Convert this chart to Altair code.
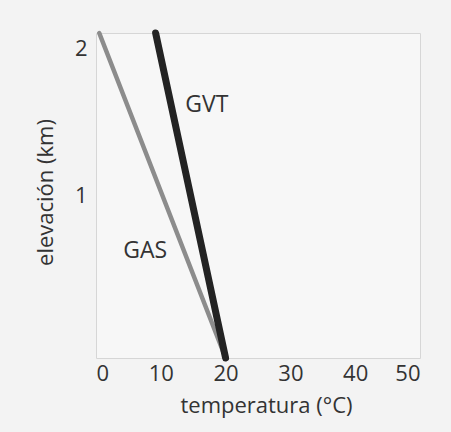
import altair as alt
import pandas as pd

series = ["GAS", "GAS", "GVT", "GVT"]
temps = [0.5, 20, 9.2, 20]
elev = [2, 0, 2, 0]

label_text = ["GVT", "GAS"]
label_x = [17.1, 7.6]
label_y = [1.56, 0.66]

x_ticks = [0, 10, 20, 30, 40, 50]
y_ticks = [1, 2]

df = pd.DataFrame({"serie": series, "temp": temps, "elev": elev})
lab = pd.DataFrame({"t": label_text, "x": label_x, "y": label_y})

FONT = "Open Sans"

x = alt.X("temp:Q", scale=alt.Scale(domain=[0, 50], nice=False),
          axis=alt.Axis(values=x_ticks, title="temperatura (°C)", grid=False,
                        domain=False, ticks=False, labelPadding=5,
                        titlePadding=11, titleX=170))
y = alt.Y("elev:Q", scale=alt.Scale(domain=[0, 2], nice=False),
          axis=alt.Axis(values=y_ticks, title="elevación (km)", grid=False,
                        domain=False, ticks=False, labelPadding=9, format="d",
                        labelFlush=True, labelFlushOffset=-5,
                        titleX=-51, titleY=159, titleBaseline="middle",
                        titleAlign="center", titleAngle=270))

lines = alt.Chart(df).mark_line(strokeCap="round").encode(
    x=x, y=y,
    color=alt.Color("serie:N", scale=alt.Scale(domain=["GAS", "GVT"], range=["#8c8c8c", "#232323"]), legend=None),
    strokeWidth=alt.StrokeWidth("serie:N", scale=alt.Scale(domain=["GAS", "GVT"], range=[4.5, 7]), legend=None),
    detail="serie:N",
)

texts = alt.Chart(lab).mark_text(font=FONT, fontSize=23, color="#333333").encode(
    x=alt.X("x:Q"), y=alt.Y("y:Q"), text="t:N"
)

chart = (lines + texts).properties(
    width=324, height=325,
    autosize=alt.AutoSizeParams(type="none"),
    padding={"left": 96, "top": 33, "right": 31, "bottom": 74},
    background="#f3f3f3",
).configure_view(
    stroke="#d6d6d6", strokeWidth=1, fill="#f7f7f7"
).configure_axis(
    labelFont=FONT, titleFont=FONT, labelFontSize=22, titleFontSize=22,
    labelColor="#333333", titleColor="#333333", titleFontWeight="normal",
)

chart.save("out.html", embed_options={"renderer": "svg", "actions": False})
